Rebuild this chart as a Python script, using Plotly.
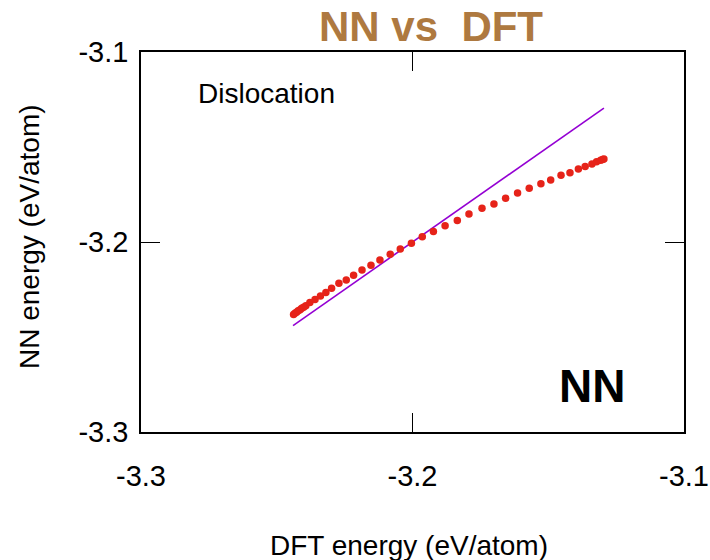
import plotly.graph_objects as go

# DFT energy (x) and NN energy (y), eV/atom
dft_energy = [-3.2438, -3.2433, -3.2427, -3.2421, -3.2414, -3.2408, -3.2401, -3.2393,
              -3.2378, -3.2359, -3.2339, -3.2319, -3.2298, -3.2271, -3.2244, -3.2217,
              -3.2186, -3.2153, -3.2120, -3.2082, -3.2045, -3.2004, -3.1964, -3.1923,
              -3.1880, -3.1835, -3.1792, -3.1744, -3.1700, -3.1657, -3.1613, -3.1570,
              -3.1527, -3.1491, -3.1453, -3.1420, -3.1389, -3.1364, -3.1339, -3.1322,
              -3.1307, -3.1300, -3.1295]
nn_energy = [-3.2381, -3.2375, -3.2370, -3.2362, -3.2356, -3.2349, -3.2343, -3.2335,
             -3.2318, -3.2303, -3.2284, -3.2266, -3.2244, -3.2217, -3.2200, -3.2175,
             -3.2147, -3.2123, -3.2095, -3.2065, -3.2037, -3.2007, -3.1972, -3.1945,
             -3.1915, -3.1887, -3.1853, -3.1823, -3.1800, -3.1770, -3.1742, -3.1717,
             -3.1693, -3.1674, -3.1649, -3.1635, -3.1616, -3.1602, -3.1589, -3.1577,
             -3.1570, -3.1566, -3.1563]
ideal_line = [-3.2440, -3.1295]
tick_vals = [-3.3, -3.2, -3.1]
tick_text = ["-3.3", "-3.2", "-3.1"]

FONT = "Liberation Sans, Arial, Helvetica, sans-serif"

fig = go.Figure()
fig.add_trace(go.Scatter(x=ideal_line, y=ideal_line, mode="lines",
                         line=dict(color="rgb(148,0,211)", width=1.6),
                         showlegend=False, hoverinfo="skip"))
fig.add_trace(go.Scatter(x=dft_energy, y=nn_energy, mode="markers",
                         marker=dict(color="rgb(230,35,25)", size=7.5),
                         showlegend=False))

axis_common = dict(
    tickvals=tick_vals, ticktext=tick_text,
    ticks="inside", ticklen=19, tickwidth=1.2, tickcolor="black",
    showline=True, linecolor="black", linewidth=1.5, mirror="ticks",
    showgrid=False, zeroline=False, automargin=False,
    tickfont=dict(family=FONT, size=29, color="black"),
)

fig.update_layout(
    width=710, height=560,
    margin=dict(l=141, r=26, t=52, b=128),
    paper_bgcolor="white", plot_bgcolor="white",
    xaxis=dict(range=[-3.3, -3.1], ticklabelstandoff=17, **axis_common),
    yaxis=dict(range=[-3.3, -3.1], ticklabelstandoff=5, **axis_common),
    font=dict(family=FONT, color="black"),
    annotations=[
        dict(text="<b>NN vs  DFT</b>", x=(431 - 141) / 543, y=1 + (52 - 27) / 380,
             xref="paper", yref="paper", xanchor="center", yanchor="middle",
             showarrow=False, font=dict(family=FONT, size=42, color="rgb(174,121,64)")),
        dict(text="DFT energy (eV/atom)", x=(409 - 141) / 543, y=(432 - 545) / 380,
             xref="paper", yref="paper", xanchor="center", yanchor="middle",
             showarrow=False, font=dict(family=FONT, size=28, color="black")),
        dict(text="NN energy (eV/atom)", x=(30 - 141) / 543, y=(432 - 237) / 380,
             xref="paper", yref="paper", xanchor="center", yanchor="middle",
             textangle=-90, showarrow=False, font=dict(family=FONT, size=28, color="black")),
        dict(text="Dislocation", x=(196 - 141) / 543, y=(432 - 93) / 380,
             xref="paper", yref="paper", xanchor="left", yanchor="middle",
             showarrow=False, font=dict(family=FONT, size=28, color="black")),
        dict(text="<b>NN</b>", x=(592 - 141) / 543, y=(432 - 386) / 380,
             xref="paper", yref="paper", xanchor="center", yanchor="middle",
             showarrow=False, font=dict(family=FONT, size=46, color="black")),
    ],
)

fig.write_html("out.html")
